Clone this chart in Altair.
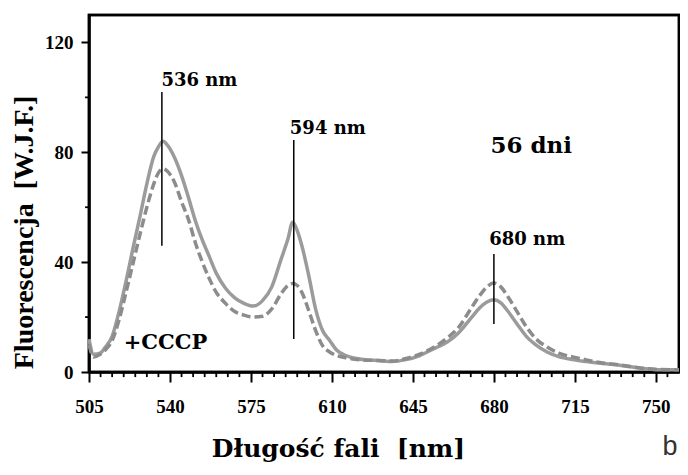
import altair as alt
import pandas as pd

# ---- data ----
wavelength = [505, 507, 510, 512, 515, 518, 521, 524, 527, 530, 533, 535, 537, 539, 542,
              545, 548, 551, 554, 557, 560, 564, 568, 572, 576, 580, 584, 588, 591, 593,
              595, 597, 600, 603, 606, 609, 612, 616, 620, 625, 630, 636, 642, 648, 654,
              660, 665, 670, 674, 677, 680, 683, 686, 690, 694, 698, 703, 708, 714, 720,
              727, 735, 744, 752, 760]
solid = [12, 6.5, 7, 9, 13, 22, 33, 45, 56.5, 68.5, 78.5, 82, 84, 82.5, 78,
         71.5, 63.5, 55, 48, 42, 36, 30.5, 27, 25, 24, 26, 31, 41, 48.5, 54.5,
         51.5, 46, 35, 22.7, 15, 11.5, 8, 6, 5, 4.4, 4.2, 3.8, 4.5, 6, 8.5,
         11, 14.5, 19.5, 23.5, 25.5, 26.3, 25.2, 22.2, 17.5, 13, 10, 7.3, 5.6, 4.5, 3.8,
         3.1, 2.4, 1.3, 0.8, 0.8]
dashed = [10, 5.5, 6.5, 8, 11.5, 19, 29, 39.5, 50, 60, 68.5, 72.5, 74, 73, 69,
          62, 55.5, 47, 40, 34, 29, 25, 22, 20.7, 20, 20.3, 23, 28.5, 31.5, 32.2,
          31.5, 29, 22.3, 15, 9.5, 7.3, 6, 5.2, 4.6, 4.3, 4.2, 4, 4.9, 6.5, 9,
          12.5, 16.5, 23, 28, 31, 32.4, 31, 27.5, 22, 16.5, 12.2, 9.1, 6.9, 5.5, 4.4,
          3.3, 2.5, 1.4, 0.9, 0.8]

peak_nm = [536.5, 593.5, 680]
peak_top = [102, 84.5, 43]
peak_bottom = [46, 12, 17.5]

peak_labels = ["536 nm", "594 nm", "680 nm"]
peak_label_x = [536.3, 591.8, 678]
peak_label_y = [106, 88.5, 48]

note_text = ["56 dni", "+CCCP"]
note_x = [678.5, 520]
note_y = [82.2, 10.6]
note_size = [23, 21]

x_major = [505, 540, 575, 610, 645, 680, 715, 750]
x_minor = [510, 515, 520, 525, 530, 535, 545, 550, 555, 560, 565, 570, 580, 585, 590,
           595, 600, 605, 615, 620, 625, 630, 635, 640, 650, 655, 660, 665, 670, 675,
           685, 690, 695, 700, 705, 710, 720, 725, 730, 735, 740, 745, 755]
y_major = [0, 40, 80, 120]
y_minor = [20, 60, 100]

X_MIN, X_MAX = 505, 760
Y_MIN, Y_MAX = 0, 130

# ---- tables ----
df_s = pd.DataFrame({"nm": wavelength, "v": solid})
df_d = pd.DataFrame({"nm": wavelength, "v": dashed})
df_r = pd.DataFrame({"nm": peak_nm, "top": peak_top, "bot": peak_bottom})
df_l = pd.DataFrame({"nm": peak_label_x, "v": peak_label_y, "t": peak_labels})
df_n = pd.DataFrame({"nm": note_x, "v": note_y, "t": note_text, "s": note_size})

# tick marks and frame, in data units so they go through the scales
df_xm = pd.DataFrame({"nm": x_minor, "top": [0.0] * len(x_minor),
                      "bot": [-1.85] * len(x_minor)})
ym_rows = []
for i, t in enumerate(y_minor):
    ym_rows.append({"k": i, "o": 0, "x": X_MIN, "y": t})
    ym_rows.append({"k": i, "o": 1, "x": X_MIN - 1.7, "y": t})
df_ym = pd.DataFrame(ym_rows)
df_box = pd.DataFrame({"x1": [X_MIN], "x2": [X_MAX], "y1": [Y_MIN], "y2": [Y_MAX]})

xs = alt.Scale(domain=[X_MIN, X_MAX], nice=False, zero=False)
ys = alt.Scale(domain=[Y_MIN, Y_MAX], nice=False, zero=False)

W, H = 590, 357
SERIF = "Liberation Serif"
DSERIF = "DejaVu Serif"
NB = "\u00a0"

x_axis = alt.Axis(
    values=x_major, orient="bottom", grid=False, tickSize=10, tickWidth=2,
    tickColor="black", domainColor="black", domainWidth=2.5,
    labelFont=SERIF, labelFontWeight="bold", labelFontSize=19, labelColor="black",
    labelPadding=15, labelFlush=False,
    title=f"Długość fali{NB}{NB}[nm]", titleFont=DSERIF, titleFontWeight="bold",
    titleFontSize=25, titleColor="black", titleX=249, titleY=84,
    titleAlign="center", titleBaseline="alphabetic")
y_axis = alt.Axis(
    values=y_major, orient="left", grid=False, tickSize=8, tickWidth=2,
    tickColor="black", domainColor="black", domainWidth=2.5,
    labelFont=SERIF, labelFontWeight="bold", labelFontSize=19, labelColor="black",
    labelPadding=8, labelFlush=False,
    title=f"Fluorescencja{NB}{NB}[W.J.F.]", titleFont=SERIF, titleFontWeight="bold",
    titleFontSize=28, titleColor="black", titleX=-65, titleY=217, titleAngle=-90,
    titleAlign="center", titleBaseline="middle")

box = alt.Chart(df_box).mark_rect(
    fill="transparent", stroke="black", strokeWidth=2.5
).encode(x=alt.X("x1:Q", scale=xs), x2="x2:Q", y=alt.Y("y1:Q", scale=ys), y2="y2:Q")

solid_line = alt.Chart(df_s).mark_line(
    color="#9b9b9b", strokeWidth=3.5, interpolate="monotone"
).encode(x=alt.X("nm:Q", scale=xs, axis=x_axis),
         y=alt.Y("v:Q", scale=ys, axis=y_axis))

dashed_line = alt.Chart(df_d).mark_line(
    color="#8c8c8c", strokeWidth=3.5, strokeDash=[9, 4], interpolate="monotone"
).encode(x=alt.X("nm:Q", scale=xs), y=alt.Y("v:Q", scale=ys))

rules = alt.Chart(df_r).mark_rule(color="black", strokeWidth=1.5).encode(
    x=alt.X("nm:Q", scale=xs), y=alt.Y("top:Q", scale=ys), y2="bot:Q")

x_minor_ticks = alt.Chart(df_xm).mark_rule(color="black", strokeWidth=1.8).encode(
    x=alt.X("nm:Q", scale=xs), y=alt.Y("top:Q", scale=ys), y2="bot:Q")

y_minor_ticks = alt.Chart(df_ym).mark_line(color="black", strokeWidth=1.8).encode(
    x=alt.X("x:Q", scale=xs), y=alt.Y("y:Q", scale=ys), detail="k:N", order="o:Q")

labels = alt.Chart(df_l).mark_text(
    font=DSERIF, fontWeight="bold", fontSize=18, align="left", baseline="middle",
    color="black"
).encode(x=alt.X("nm:Q", scale=xs), y=alt.Y("v:Q", scale=ys), text="t:N")

notes = alt.Chart(df_n).mark_text(
    font=DSERIF, fontWeight="bold", align="left", baseline="middle", color="black"
).encode(x=alt.X("nm:Q", scale=xs), y=alt.Y("v:Q", scale=ys),
         text="t:N", size=alt.Size("s:Q", scale=None, legend=None))

panel_letter = alt.Chart(pd.DataFrame({"t": ["b"]})).mark_text(
    font="Liberation Sans", fontSize=27, color="#333333", align="center",
    baseline="middle"
).encode(x=alt.value(581), y=alt.value(432), text="t:N")

chart = alt.layer(
    box, solid_line, dashed_line, rules, x_minor_ticks, y_minor_ticks, labels, notes,
    panel_letter
).properties(
    width=W, height=H,
    background="white",
    autosize=alt.AutoSizeParams(type="none"),
    padding={"left": 81, "top": 7, "right": 1, "bottom": 90},
).configure_view(stroke="black", strokeWidth=2.5)

chart.save("out.html", embed_options={"renderer": "svg", "actions": False})
